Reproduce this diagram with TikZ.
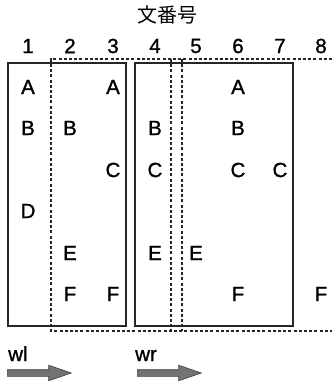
\documentclass[tikz,border=0pt]{standalone}
\usepackage{fontspec}
\setmainfont{Liberation Sans}[FakeBold=1.2]
\newfontfamily\cjkfont{Noto Sans CJK JP}
\usetikzlibrary{shapes.arrows}
\begin{document}
\begin{tikzpicture}[x=1pt,y=-1pt,
  lbl/.style={font=\fontsize{20.5}{24}\selectfont, inner sep=0pt, anchor=center},
  solidbox/.style={draw=black!85, line width=1.9pt},
  winbox/.style={draw=black!85, line width=1.4pt, dash pattern=on 3pt off 2.2pt},
  movearrow/.style={single arrow, draw=black!75, fill=black!55, line width=0.6pt,
    inner sep=0pt, inner ysep=3pt, minimum height=64pt,
    single arrow head extend=4.5pt, single arrow tip angle=38, anchor=west}]
\useasboundingbox (0,0) rectangle (332,385);

% heading
\node[lbl, font=\cjkfont\fontsize{20}{24}\selectfont] (title) at (167,15) {文番号};

% column numbers
\foreach \i/\x in {1/28,2/70,3/113,4/155,5/196,6/238,7/280,8/321}
  \node[lbl] (n\i) at (\x,46) {\i};

% windows (dashed) and sentence blocks (solid)
\draw[winbox] (332,59) -- (51,59) -- (51,331) -- (332,331);
\draw[winbox] (171,59) -- (171,331);
\draw[winbox] (182,59) -- (182,331);
\draw[solidbox] (8,63) rectangle (126,326);
\draw[solidbox] (135,63) rectangle (293,326);

% entries
\foreach \t/\x/\y in {
  A/28/87, B/28/128, D/28/211,
  B/70/128, E/70/253, F/70/294,
  A/113/87, C/113/170, F/113/294,
  B/155/128, C/155/170, E/155/253,
  E/196/253,
  A/238/87, B/238/128, C/238/170, F/238/294,
  C/280/170,
  F/321/294}
  \node[lbl] at (\x,\y) {\t};

% window labels and direction arrows
\node[lbl, anchor=base west] (wl) at (8,361) {wl};
\node[lbl, anchor=base west] (wr) at (135,361) {wr};
\node[movearrow] (al) at (7,373) {};
\node[movearrow] (ar) at (137,373) {};
\end{tikzpicture}
\end{document}
